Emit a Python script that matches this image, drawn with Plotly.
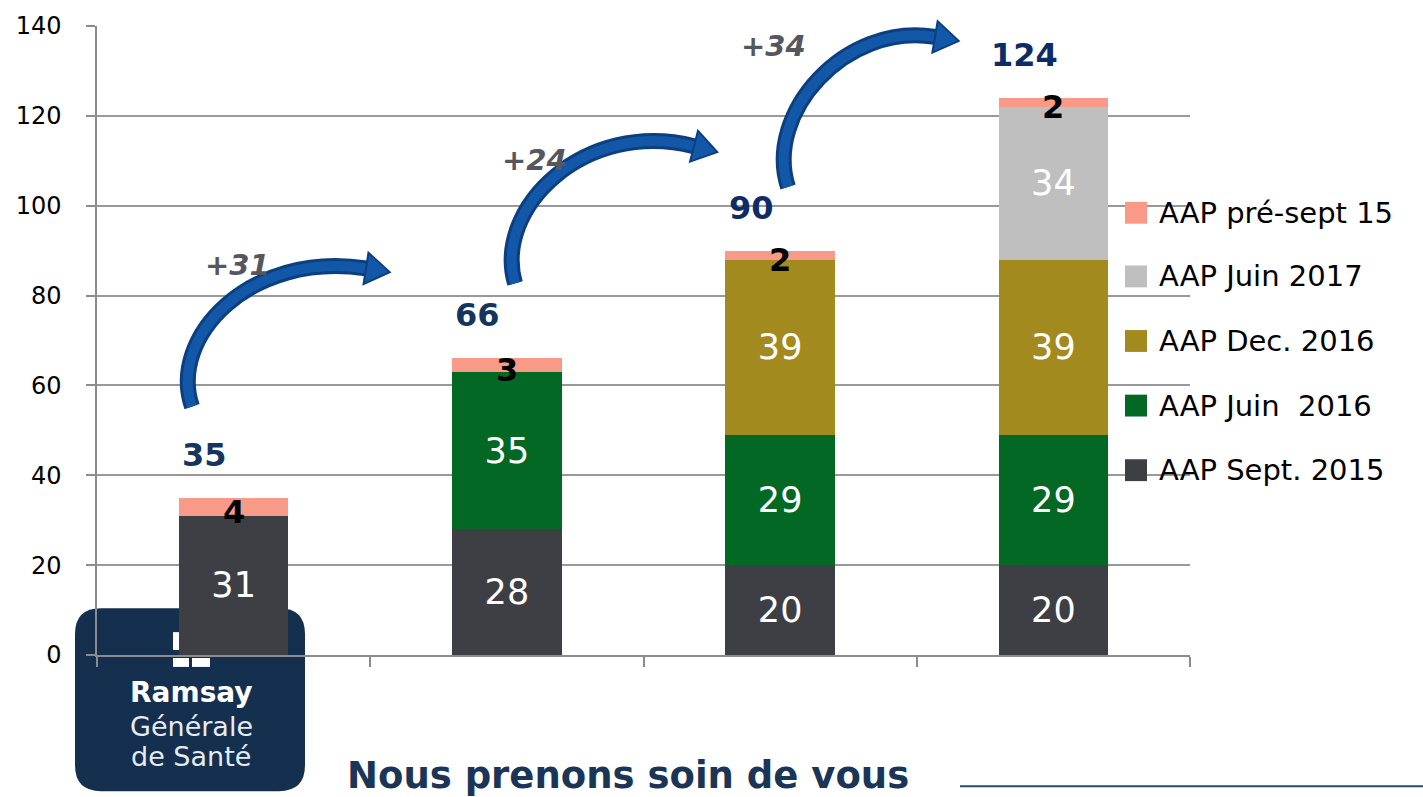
import plotly.graph_objects as go

# ---------------- data ----------------
bars = [0, 1, 2, 3]
series_names = ["AAP Sept. 2015", "AAP Juin  2016", "AAP Dec. 2016", "AAP Juin 2017", "AAP pré-sept 15"]
sept_2015 = [31, 28, 20, 20]
juin_2016 = [0, 35, 29, 29]
dec_2016 = [0, 0, 39, 39]
juin_2017 = [0, 0, 0, 34]
pre_sept_15 = [4, 3, 2, 2]
y_ticks = [0, 20, 40, 60, 80, 100, 120, 140]

series_values = [sept_2015, juin_2016, dec_2016, juin_2017, pre_sept_15]
colors = ["#3d3f44", "#036824", "#a38a1e", "#bfbfbf", "#f89a87"]
total_colors = ["#15365c", "#15365c", "#0d2b66", "#0d2b66"]
totals = [sum(v[i] for v in series_values) for i in range(len(bars))]

FONT = "DejaVu Sans"

# plot area in pixels (layout)
L, R, T, B = 97, 1190, 22, 655
W, H = R - L, B - T
px = lambda x: (x - L) / W
py = lambda y: (B - y) / H

fig = go.Figure()
for name, vals, col in zip(series_names, series_values, colors):
    is_small = name == "AAP pré-sept 15"
    fig.add_trace(go.Bar(
        x=bars, y=vals, name=name, marker=dict(color=col, line=dict(width=0)),
        width=0.4,
        text=["" if (v == 0 or is_small) else str(v) for v in vals],
        textposition="inside", insidetextanchor="middle", textangle=0,
        insidetextfont=dict(family=FONT, size=35, color="white"),
        showlegend=False, hoverinfo="skip",
    ))

annotations = []
shapes = []

def note(x, y, text, size, color, xanchor="center", **kw):
    annotations.append(dict(x=px(x), y=py(y), xref="paper", yref="paper", text=text,
                            showarrow=False, xanchor=xanchor, yanchor="middle",
                            font=dict(family=FONT, size=size, color=color), **kw))

# small top segment labels and totals
base = [sum(v[i] for v in series_values[:-1]) for i in range(len(bars))]
for i in bars:
    annotations.append(dict(x=i, y=base[i] + pre_sept_15[i] / 2, xref="x", yref="y",
                            text=f"<b>{pre_sept_15[i]}</b>", showarrow=False, yshift=-5,
                            xanchor="center", yanchor="middle",
                            font=dict(family=FONT, size=32, color="black")))
    annotations.append(dict(x=i, y=totals[i], xref="x", yref="y",
                            text=f"<b>{totals[i]}</b>", showarrow=False, yshift=43, xshift=-29,
                            xanchor="center", yanchor="middle",
                            font=dict(family=FONT, size=32, color=total_colors[i])))

# growth labels + arrows (decorations placed in pixel layout)
growth_pos = [(237, 263), (534, 157), (773, 42)]
arrows = [
    [(192, 405), (168, 335), (250, 248), (366, 266)],
    [(515, 281), (493, 205), (585, 115), (694, 143)],
    [(788, 184), (764, 110), (845, 18), (935, 33)],
]
for i, (gx, gy) in enumerate(growth_pos):
    note(gx, gy, f"<b><i>+{totals[i+1]-totals[i]}</i></b>", 29, "#54585e")

def ppath(pts, cmd="C"):
    p0 = pts[0]
    return f"M {px(p0[0])},{py(p0[1])} {cmd} " + " ".join(f"{px(x)},{py(y)}" for x, y in pts[1:])

for a in arrows:
    p0, p1, p2, p3 = a
    shapes.append(dict(type="path", xref="paper", yref="paper", path=ppath(a),
                       line=dict(color="#0b3f7f", width=16), layer="above"))
    shapes.append(dict(type="path", xref="paper", yref="paper", path=ppath(a),
                       line=dict(color="#1358a8", width=10), layer="above"))
    dx, dy = p3[0] - p2[0], p3[1] - p2[1]
    n = (dx * dx + dy * dy) ** 0.5
    ux, uy = dx / n, dy / n
    nx, ny = -uy, ux
    hw, hl = 16, 24
    b1 = (p3[0] + nx * hw, p3[1] + ny * hw)
    b2 = (p3[0] - nx * hw, p3[1] - ny * hw)
    tip = (p3[0] + ux * hl, p3[1] + uy * hl)
    path = f"M {px(b1[0])},{py(b1[1])} L {px(tip[0])},{py(tip[1])} L {px(b2[0])},{py(b2[1])} Z"
    shapes.append(dict(type="path", xref="paper", yref="paper", path=path,
                       fillcolor="#1358a8", line=dict(color="#0b3f7f", width=2), layer="above"))

# manual legend
leg_y = [469, 404, 339, 274, 210]
for name, col, yy in zip(series_names, colors, leg_y):
    shapes.append(dict(type="rect", xref="paper", yref="paper",
                       x0=px(1125), x1=px(1147), y0=py(yy - 11), y1=py(yy + 11),
                       fillcolor=col, line=dict(width=0), layer="above"))
    note(1157, yy, name, 29, "black", xanchor="left")

# logo
x0, x1, y0, y1, r = 75, 305, 608, 792, 26
logo = (f"M {px(x0+r)},{py(y0)} L {px(x1-r)},{py(y0)} Q {px(x1)},{py(y0)} {px(x1)},{py(y0+r)} "
        f"L {px(x1)},{py(y1-r)} Q {px(x1)},{py(y1)} {px(x1-r)},{py(y1)} "
        f"L {px(x0+r)},{py(y1)} Q {px(x0)},{py(y1)} {px(x0)},{py(y1-r)} "
        f"L {px(x0)},{py(y0+r)} Q {px(x0)},{py(y0)} {px(x0+r)},{py(y0)} Z")
shapes.append(dict(type="path", xref="paper", yref="paper", path=logo,
                   fillcolor="#15304f", line=dict(width=0), layer="below"))
for (a0, b0, a1, b1_) in [(173, 632, 180, 650), (173, 658, 189, 667)]:
    shapes.append(dict(type="rect", xref="paper", yref="paper", x0=px(a0), x1=px(a1),
                       y0=py(b1_), y1=py(b0), fillcolor="white", line=dict(width=0), layer="below"))
shapes.append(dict(type="path", xref="paper", yref="paper",
                   path=f"M {px(192)},{py(658)} L {px(210)},{py(658)} L {px(210)},{py(667)} L {px(192)},{py(667)} Z",
                   fillcolor="white", line=dict(width=0), layer="below"))
note(191, 693, "<b>Ramsay</b>", 28, "white")
note(191, 727, "Générale", 27, "#e8ecf2")
note(191, 757, "de Santé", 27, "#e8ecf2")

# footer
note(345, 776, "<b>Nous prenons soin de vous</b>", 37, "#1b3556", xanchor="left")
shapes.append(dict(type="line", xref="paper", yref="paper", x0=px(960), x1=px(1423),
                   y0=py(787), y1=py(787), line=dict(color="#2c4a6e", width=2)))

fig.update_layout(
    barmode="stack",
    width=1423, height=797,
    margin=dict(l=L, r=1423 - R, t=T, b=797 - B, pad=0),
    paper_bgcolor="white", plot_bgcolor="rgba(0,0,0,0)",
    showlegend=False,
    annotations=annotations, shapes=shapes,
    xaxis=dict(range=[-0.5, 3.5], tickvals=[-0.5, 0.5, 1.5, 2.5, 3.5], ticktext=[""] * 5,
               ticks="outside", ticklen=10, tickcolor="#8c8c8c", tickwidth=1.5,
               showgrid=False, showline=True, linecolor="#8c8c8c", linewidth=1.5, zeroline=False),
    yaxis=dict(range=[0, 140], tickvals=y_ticks, ticks="outside", ticklen=9,
               tickcolor="#8c8c8c", tickwidth=1.5, showgrid=True, gridcolor="#999999", gridwidth=1.5,
               showline=True, linecolor="#8c8c8c", linewidth=1.5, zeroline=False,
               ticklabelstandoff=20,
               tickfont=dict(family=FONT, size=24, color="black")),
)

fig.write_html("out.html", config={"displayModeBar": False},
               post_script="document.body.style.margin='0';document.body.style.overflow='hidden';")
